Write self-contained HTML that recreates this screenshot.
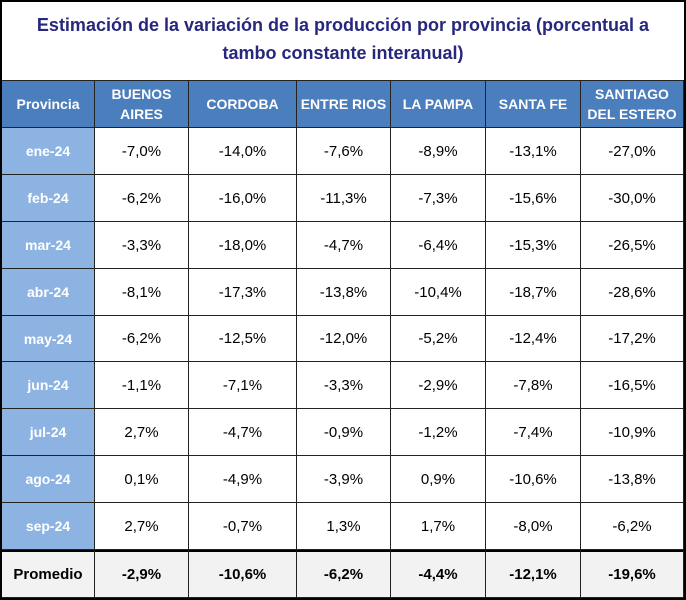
<!DOCTYPE html>
<html><head><meta charset="utf-8">
<style>
html,body{margin:0;padding:0;background:#fff;}
#wrap{position:relative;width:686px;height:600px;overflow:hidden;font-family:"Liberation Sans","DejaVu Sans",sans-serif;}
#frame{position:absolute;left:0;top:0;width:682px;height:596px;border:2px solid #000;}
#title{position:absolute;left:2px;top:11px;width:682px;text-align:center;color:#27277e;font-weight:bold;font-size:18px;line-height:28px;}
.c{position:absolute;box-sizing:border-box;display:flex;align-items:center;justify-content:center;text-align:center;border-right:1px solid #222;border-bottom:1px solid #222;font-size:15px;color:#000;}
.h{background:#4a7ebd;color:#fff;font-weight:bold;font-size:14px;line-height:20px;}
.m{background:#8db3e2;color:#fff;font-weight:bold;font-size:14px;}
.p{background:#f2f2f2;font-weight:bold;}
</style></head><body>
<div id="wrap">
<div id="frame"></div>
<div id="title">Estimación de la variación de la producción por provincia (porcentual a<br>tambo constante interanual)</div>
</div>
<script>
const provinces = ["BUENOS<br>AIRES","CORDOBA","ENTRE RIOS","LA PAMPA","SANTA FE","SANTIAGO<br>DEL ESTERO"];
const months = ["ene-24","feb-24","mar-24","abr-24","may-24","jun-24","jul-24","ago-24","sep-24"];
const values = [
["-7,0%","-14,0%","-7,6%","-8,9%","-13,1%","-27,0%"],
["-6,2%","-16,0%","-11,3%","-7,3%","-15,6%","-30,0%"],
["-3,3%","-18,0%","-4,7%","-6,4%","-15,3%","-26,5%"],
["-8,1%","-17,3%","-13,8%","-10,4%","-18,7%","-28,6%"],
["-6,2%","-12,5%","-12,0%","-5,2%","-12,4%","-17,2%"],
["-1,1%","-7,1%","-3,3%","-2,9%","-7,8%","-16,5%"],
["2,7%","-4,7%","-0,9%","-1,2%","-7,4%","-10,9%"],
["0,1%","-4,9%","-3,9%","0,9%","-10,6%","-13,8%"],
["2,7%","-0,7%","1,3%","1,7%","-8,0%","-6,2%"]];
const averages = ["-2,9%","-10,6%","-6,2%","-4,4%","-12,1%","-19,6%"];
const xs=[2,95,189,297,391,486,581,684];
const wrap=document.getElementById('wrap');
function cell(x0,x1,y0,y1,html,cls){
  const d=document.createElement('div');
  d.className='c '+cls;
  d.style.left=x0+'px';d.style.top=y0+'px';d.style.width=(x1-x0)+'px';d.style.height=(y1-y0)+'px';
  d.innerHTML=html;wrap.appendChild(d);return d;
}
const hy0=80,hy1=128,rh=(550-128)/months.length;
let e=cell(xs[0],xs[1],hy0,hy1,"Provincia","h");
e.style.borderTop='1px solid #222';


provinces.forEach((p,i)=>{
  const d=cell(xs[i+1],xs[i+2],hy0,hy1,p,"h");
  d.style.borderTop='1px solid #222';
  
  
});
months.forEach((m,r)=>{
  const y0=Math.round(hy1+r*rh),y1=Math.round(hy1+(r+1)*rh);
  const d=cell(xs[0],xs[1],y0,y1,m,"m");
  
  
  values[r].forEach((v,i)=>{
    const c=cell(xs[i+1],xs[i+2],y0,y1,v,"");
    
    
  });
});
const py0=550,py1=598;
e=cell(xs[0],xs[1],py0,py1,"Promedio","p");
e.style.borderTop='2px solid #000';


averages.forEach((v,i)=>{
  const c=cell(xs[i+1],xs[i+2],py0,py1,v,"p");
  c.style.borderTop='2px solid #000';
  
  
});
</script>
</body></html>
